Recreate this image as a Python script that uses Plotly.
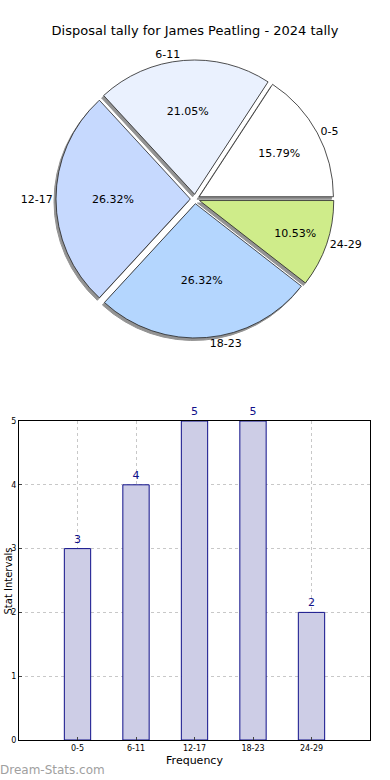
import plotly.graph_objects as go

categories = ["0-5", "6-11", "12-17", "18-23", "24-29"]
values = [3, 4, 5, 5, 2]
pie_colors = ["#ffffff", "#eaf1fe", "#c6d9fe", "#b4d6fe", "#cfec8a"]
title_text = "Disposal tally for James Peatling - 2024 tally"

W, H = 390, 780
pull = [0.035] * len(values)
first_share = values[0] / sum(values) * 360
rot = 90 - first_share

def px_dom(cx, cy, half):
    return dict(x=[(cx - half) / W, (cx + half) / W],
                y=[1 - (cy + half) / H, 1 - (cy - half) / H])

fig = go.Figure()
cx, cy, half = 195, 199, 139
common = dict(labels=categories, values=values, sort=False, direction="counterclockwise",
              rotation=rot, pull=pull, showlegend=False)
# shadow
fig.add_trace(go.Pie(**common, marker=dict(colors=["#939393"] * 5, line=dict(color="#939393", width=1)),
                     textinfo="none", hoverinfo="skip",
                     domain=px_dom(cx - 2, cy + 2.5, half)))
# main pie with percentages inside
fig.add_trace(go.Pie(**common,
                     marker=dict(colors=pie_colors, line=dict(color="#222222", width=0.8)),
                     texttemplate="%{percent:.2%}", textposition="inside", insidetextorientation="horizontal",
                     textfont=dict(family="DejaVu Sans", size=11, color="black"),
                     domain=px_dom(cx, cy, half)))
# label ring outside
fig.add_trace(go.Pie(**common,
                     marker=dict(colors=["rgba(0,0,0,0)"] * 5, line=dict(width=0)),
                     texttemplate="%{label}", textposition="outside",
                     textfont=dict(family="DejaVu Sans", size=11, color="black"),
                     hoverinfo="skip", domain=px_dom(cx, cy, half)))

fig.add_trace(go.Bar(x=list(range(len(categories))), y=values, width=0.45,
                     marker=dict(color="#cdcde6", line=dict(color="#10108a", width=1)),
                     text=[str(v) for v in values], textposition="outside", cliponaxis=False,
                     textfont=dict(family="DejaVu Sans", size=11, color="#10108a"),
                     showlegend=False, xaxis="x", yaxis="y"))

fig.update_layout(
    width=W, height=H, margin=dict(l=0, r=0, t=0, b=0, autoexpand=False),
    paper_bgcolor="white", plot_bgcolor="white",
    font=dict(family="DejaVu Sans", color="black"),
    title=dict(text=title_text, x=0.5, xanchor="center", y=1 - 30 / H, yanchor="middle",
               font=dict(size=13, color="black")),
    xaxis=dict(domain=[19 / W, 370 / W], range=[-1, 5], tickmode="array", automargin=False,
               tickvals=list(range(len(categories))), ticktext=categories,
               tickfont=dict(size=8), showgrid=True, gridcolor="#c8c8c8", griddash="dot",
               showline=True, linecolor="black", mirror=True, ticks="inside", ticklen=3,
               zeroline=False, title=dict(text="Frequency", font=dict(size=11), standoff=4)),
    yaxis=dict(domain=[1 - 740 / H, 1 - 421 / H], range=[0, 5], dtick=1, automargin=False,
               tickfont=dict(size=8), showgrid=True, gridcolor="#c8c8c8", griddash="dot",
               showline=True, linecolor="black", mirror=True, ticks="inside", ticklen=3,
               zeroline=False),
    annotations=[
        dict(text="Stat Intervals", textangle=-90, xref="paper", yref="paper",
             x=0, y=1 - 581 / H, xanchor="left", yanchor="middle", showarrow=False,
             font=dict(size=10, color="black")),
        dict(text="Dream-Stats.com", xref="paper", yref="paper", x=-2 / W, y=1 - 770 / H,
             xanchor="left", yanchor="middle", showarrow=False,
             font=dict(size=12, color="#a0a0a0", family="DejaVu Sans")),
    ],
)

fig.write_html("out.html", config={"displayModeBar": False},
               post_script="document.body.style.margin='0';")
